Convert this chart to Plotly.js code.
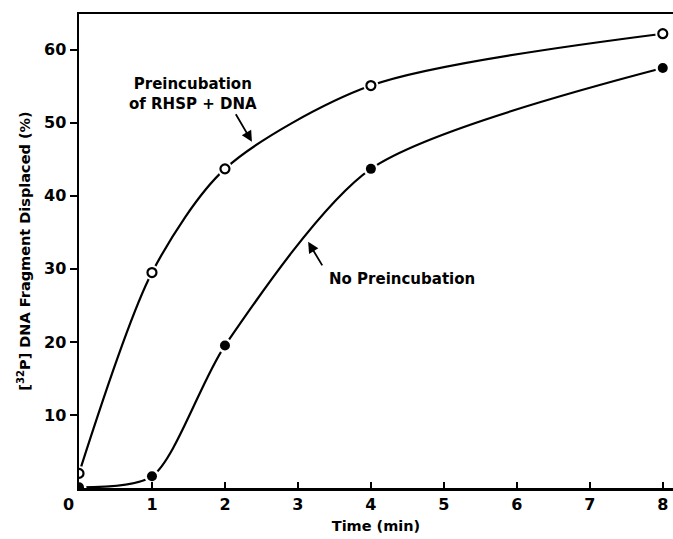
<!DOCTYPE html>
<html>
<head>
<meta charset="utf-8">
<script src="https://cdn.plot.ly/plotly-3.0.1.min.js"></script>
<style>html,body{margin:0;padding:0;background:#fff;}#chart{width:673px;height:539px;}</style>
</head>
<body>
<div id="chart"></div>
<script>
var timeMin = [0, 1, 2, 4, 8];
var preincubation = [2.0, 29.5, 43.7, 55.1, 62.2];
var noPreincubation = [0.1, 1.6, 19.5, 43.7, 57.5];
var xTicks = [1, 2, 3, 4, 5, 6, 7, 8];
var yTicks = [10, 20, 30, 40, 50, 60];

var F = "DejaVu Sans, Verdana, sans-serif";

var traces = [
  {x: timeMin, y: preincubation, mode: "lines", line: {shape: "spline", smoothing: 0.8, color: "#000", width: 2.2}, hoverinfo: "skip"},
  {x: timeMin, y: noPreincubation, mode: "lines", line: {shape: "spline", smoothing: 0.75, color: "#000", width: 2.2}, hoverinfo: "skip"},
  {x: timeMin, y: preincubation, mode: "markers", marker: {size: 15, color: "#fff", line: {width: 0}}, hoverinfo: "skip"},
  {x: timeMin, y: noPreincubation, mode: "markers", marker: {size: 15, color: "#fff", line: {width: 0}}, hoverinfo: "skip"},
  {x: timeMin, y: preincubation, mode: "markers", marker: {size: 9, color: "#fff", line: {width: 2.2, color: "#000"}}},
  {x: timeMin, y: noPreincubation, mode: "markers", marker: {size: 10, color: "#000", line: {width: 0}}}
];

var layout = {
  width: 673, height: 539,
  margin: {l: 79, r: 0, t: 14, b: 51},
  showlegend: false,
  paper_bgcolor: "#fff", plot_bgcolor: "#fff",
  font: {family: F, color: "#000"},
  xaxis: {
    range: [0, 8.14], tickvals: xTicks, ticktext: xTicks.map(String),
    ticks: "inside", ticklen: 6, tickwidth: 2, tickcolor: "#000",
    showline: true, linewidth: 2.5, linecolor: "#000", mirror: true,
    showgrid: false, zeroline: false,
    tickfont: {size: 16, family: F, weight: "bold"},
    title: {text: "Time (min)", font: {size: 14.5, family: F, weight: "bold"}, standoff: 8}
  },
  yaxis: {
    range: [0, 64.9], tickvals: yTicks, ticktext: yTicks.map(String),
    ticks: "outside", ticklen: 7, tickwidth: 2, tickcolor: "#000",
    showline: true, linewidth: 2.5, linecolor: "#000",
    showgrid: false, zeroline: false,
    tickfont: {size: 16, family: F, weight: "bold"},
    title: {text: "[<sup>32</sup>P] DNA Fragment Displaced (%)", font: {size: 14.5, family: F, weight: "bold"}, standoff: 10}
  },
  annotations: [
    {x: 0, y: 0, xref: "x", yref: "y", text: "0", showarrow: false, xanchor: "center", yanchor: "top", xshift: -11, yshift: -5, font: {size: 16, family: F, weight: "bold"}},
    {x: 1.56, y: 54.0, text: "Preincubation<br>of RHSP + DNA", showarrow: false, font: {size: 15, family: F, weight: "bold"}},
    {x: 2.37, y: 47.4, text: "", showarrow: true, arrowhead: 2, arrowsize: 1.2, arrowwidth: 1.8, arrowcolor: "#000", ax: -17, ay: -29},
    {x: 4.42, y: 28.6, text: "No Preincubation", showarrow: false, font: {size: 15, family: F, weight: "bold"}},
    {x: 3.14, y: 33.7, text: "", showarrow: true, arrowhead: 2, arrowsize: 1.2, arrowwidth: 1.8, arrowcolor: "#000", ax: 15, ay: 25}
  ]
};

Plotly.newPlot("chart", traces, layout, {displayModeBar: false, staticPlot: true});
</script>
</body>
</html>
